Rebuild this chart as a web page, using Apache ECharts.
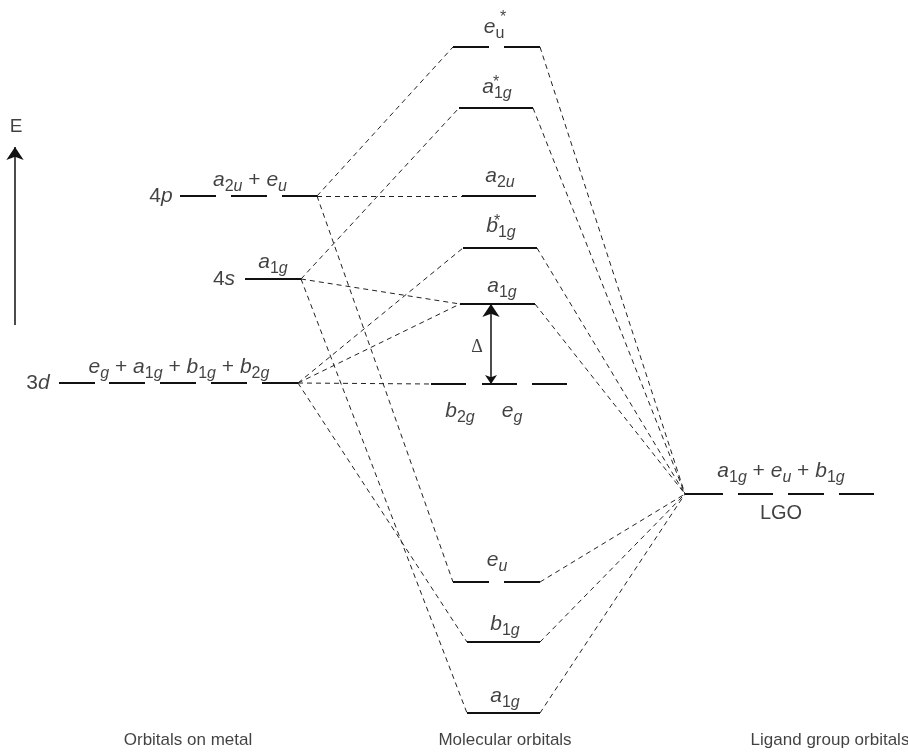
<!DOCTYPE html>
<html>
<head>
<meta charset="utf-8">
<script src="https://cdn.jsdelivr.net/npm/echarts@6/dist/echarts.min.js"></script>
<style>
  html, body { margin: 0; padding: 0; background: #fff; }
  #chart { width: 908px; height: 753px; }
</style>
</head>
<body>
<div id="chart"></div>
<script>
// energies of the levels (arbitrary units, up = higher)
const metalNames = ['4p', '4s', '3d'];
const metalEnergy = [557, 474, 370];
const moNames = ['eu*', 'a1g*', 'a2u', 'b1g*', 'a1g', 'b2g+eg', 'eu', 'b1g', 'a1g'];
const moEnergy = [706, 645, 557, 505, 449, 369, 171, 111, 40];
const lgoEnergy = 259;

// which metal level feeds which MO, and which MOs take in the LGO
const metalLinks = [[0, 0], [0, 2], [0, 6], [1, 1], [1, 4], [1, 8], [2, 3], [2, 4], [2, 5], [2, 7]];
const lgoLinks = [0, 1, 3, 4, 6, 7, 8];

// horizontal layout of the level bars (degenerate levels drawn as several bars)
const metalSegs = [
  [[180, 216], [231, 267], [282, 317]],
  [[245, 301]],
  [[59, 95], [109, 145], [160, 196], [211, 247], [262, 298]]
];
const moSegs = [
  [[453, 489], [504, 540]],
  [[459, 533]],
  [[462, 536]],
  [[463, 537]],
  [[460, 535]],
  [[431, 466], [482, 517], [532, 567]],
  [[453, 489], [504, 540]],
  [[467, 540]],
  [[467, 540]]
];
const lgoSegs = [[685, 723], [738, 773], [788, 824], [839, 874]];

const INK = '#111';
const F = 'Liberation Sans';

// level bars
const levelLines = [];
function addLevel(segs, e) {
  segs.forEach(s => levelLines.push({ coords: [[s[0], e], [s[1], e]] }));
}
metalSegs.forEach((segs, i) => addLevel(segs, metalEnergy[i]));
moSegs.forEach((segs, i) => addLevel(segs, moEnergy[i]));
addLevel(lgoSegs, lgoEnergy);

// correlation lines
const dashLines = [];
metalLinks.forEach(([m, o]) => {
  const ms = metalSegs[m], os = moSegs[o];
  dashLines.push({ coords: [[ms[ms.length - 1][1], metalEnergy[m]], [os[0][0], moEnergy[o]]] });
});
lgoLinks.forEach(o => {
  const os = moSegs[o];
  dashLines.push({ coords: [[os[os.length - 1][1], moEnergy[o]], [lgoSegs[0][0], lgoEnergy]] });
});

// text: [x, y, rich string]
const labels = [
  [161, 557, '{n|4}{m|p}'],
  [224, 474, '{n|4}{m|s}'],
  [38, 370, '{n|3}{m|d}'],
  [250, 573, '{m|a}{d|2}{s|u}{n| + }{m|e}{s|u}'],
  [273, 491, '{m|a}{d|1}{s|g}'],
  [179, 386, '{m|e}{s|g}{n| + }{m|a}{d|1}{s|g}{n| + }{m|b}{d|1}{s|g}{n| + }{m|b}{d|2}{s|g}'],
  [16, 626, '{e|E}'],
  [494, 726, '{m|e}{d|u}'],
  [497, 666, '{m|a}{d|1}{s|g}'],
  [500, 577, '{m|a}{d|2}{s|u}'],
  [501, 527, '{m|b}{d|1}{s|g}'],
  [502, 467, '{m|a}{d|1}{s|g}'],
  [477, 406, '{D|Δ}'],
  [460, 342, '{m|b}{d|2}{s|g}'],
  [512, 342, '{m|e}{s|g}'],
  [497, 193, '{m|e}{s|u}'],
  [505, 129, '{m|b}{d|1}{s|g}'],
  [505, 57, '{m|a}{d|1}{s|g}'],
  [781, 282, '{m|a}{d|1}{s|g}{n| + }{m|e}{s|u}{n| + }{m|b}{d|1}{s|g}'],
  [781, 240, '{L|LGO}'],
  [503, 735, '{st|*}'],
  [496, 670, '{st|*}'],
  [497, 531, '{st|*}'],
  [188, 13, '{c|Orbitals on metal}'],
  [505, 13, '{c|Molecular orbitals}'],
  [830, 13, '{c|Ligand group orbitals}']
];

const rich = {
  m: { fontFamily: F, fontSize: 21, fontStyle: 'italic', lineHeight: 30, color: INK },
  n: { fontFamily: F, fontSize: 21, lineHeight: 30, color: INK },
  s: { fontFamily: F, fontSize: 16, fontStyle: 'italic', verticalAlign: 'bottom', color: INK },
  d: { fontFamily: F, fontSize: 16, verticalAlign: 'bottom', color: INK },
  st: { fontFamily: F, fontSize: 16, color: INK },
  e: { fontFamily: F, fontSize: 19, color: INK },
  L: { fontFamily: F, fontSize: 20, color: INK },
  D: { fontFamily: 'Liberation Serif', fontSize: 18, color: INK },
  c: { fontFamily: F, fontSize: 17, color: INK }
};

const chart = echarts.init(document.getElementById('chart'));
chart.setOption({
  animation: false,
  backgroundColor: '#fff',
  grid: { left: 0, right: 0, top: 0, bottom: 0 },
  xAxis: { type: 'value', min: 0, max: 908, show: false },
  yAxis: { type: 'value', min: 0, max: 753, show: false },
  series: [
    {
      type: 'lines',
      coordinateSystem: 'cartesian2d',
      silent: true,
      lineStyle: { color: '#222', width: 1, type: [5, 4], opacity: 1 },
      data: dashLines
    },
    {
      type: 'lines',
      coordinateSystem: 'cartesian2d',
      silent: true,
      lineStyle: { color: INK, width: 2, opacity: 1 },
      data: levelLines
    },
    {
      type: 'lines',
      coordinateSystem: 'cartesian2d',
      silent: true,
      symbolSize: [9, 13],
      lineStyle: { color: INK, width: 1.5, opacity: 1 },
      data: [
        { coords: [[491, moEnergy[5]], [491, moEnergy[4]]], symbol: ['arrow', 'arrow'] },
        { coords: [[15, 428], [15, 606]], symbol: ['none', 'arrow'] }
      ]
    },
    {
      type: 'scatter',
      silent: true,
      symbolSize: 0,
      itemStyle: { color: 'transparent' },
      label: {
        show: true,
        position: 'inside',
        color: INK,
        formatter: p => p.data.text,
        rich: rich
      },
      data: labels.map(l => ({ value: [l[0], l[1]], text: l[2] }))
    }
  ]
});
</script>
</body>
</html>
